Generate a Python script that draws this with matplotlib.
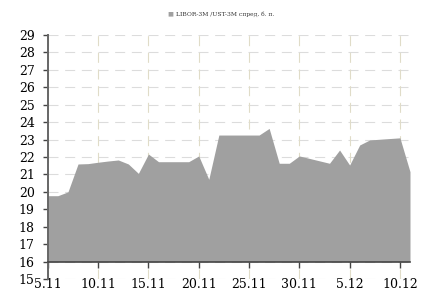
import numpy as np
import pandas as pd
import matplotlib
matplotlib.use('Agg')
import matplotlib.pyplot as plt

plt.rcParams['font.family'] = ['DejaVu Serif']

# LIBOR-3M / UST-3M spread, bp
dates = pd.date_range('2014-11-05', '2014-12-11', freq='D')
spread = [19.78, 19.78, 20.0, 21.6, 21.62, 21.7, 21.77, 21.83, 21.6, 21.06,
          22.17, 21.73, 21.73, 21.73, 21.73, 22.06, 20.72, 23.26, 23.26, 23.26,
          23.26, 23.26, 23.64, 21.64, 21.64, 22.06, 21.92, 21.78, 21.64, 22.4,
          21.54, 22.69, 22.98, 23.02, 23.06, 23.1, 21.16]
yticks = list(range(15, 30))
xtick_dates = pd.to_datetime(['2014-11-05', '2014-11-10', '2014-11-15', '2014-11-20',
                              '2014-11-25', '2014-11-30', '2014-12-05', '2014-12-10'])

days = (dates - dates[0]).days.values
xt = (xtick_dates - dates[0]).days.values
xlabels = ['{}.{}'.format(d.day, d.month) for d in xtick_dates]

fig = plt.figure(figsize=(4.35, 2.93), dpi=100)
ax = fig.add_axes([0.110, 0.0478, 0.8325, 0.8327])

ax.fill_between(days, spread, 16, color='#a0a0a0', lw=0, zorder=2)

ax.set_xlim(days[0], days[-1])
ax.set_ylim(15, 29)
ax.set_yticks(yticks)
ax.set_xticks(xt)
ax.set_xticklabels(xlabels)

for y in yticks:
    ax.axhline(y, color='#dcdcdc', lw=0.8, dashes=(9, 6), zorder=1)
for x in xt:
    ax.axvline(x, color='#e0dcc8', lw=0.8, dashes=(9, 6), zorder=1)

for s in ['top', 'right']:
    ax.spines[s].set_visible(False)
ax.spines['bottom'].set_position(('data', 16))
ax.spines['bottom'].set_color('#444444')
ax.spines['bottom'].set_linewidth(1.2)
ax.spines['bottom'].set_zorder(3)
ax.spines['left'].set_color('#666666')
ax.spines['left'].set_linewidth(1.4)
ax.spines['left'].set_zorder(3)

ax.tick_params(axis='y', length=3.6, width=1, color='#444444', labelsize=9, pad=5.8)
ax.tick_params(axis='x', length=4.3, width=1, color='#444444', labelsize=9, pad=7.5)

fig.text(0.384, 0.952, '\u25a0', color='#a0a0a0', fontsize=4.5, va='center')
fig.text(0.405, 0.952, 'LIBOR-3M /UST-3M спред, б. п.', color='#333333',
         fontsize=4.3, va='center')

plt.savefig('out.png', dpi=100)
plt.close(fig)
